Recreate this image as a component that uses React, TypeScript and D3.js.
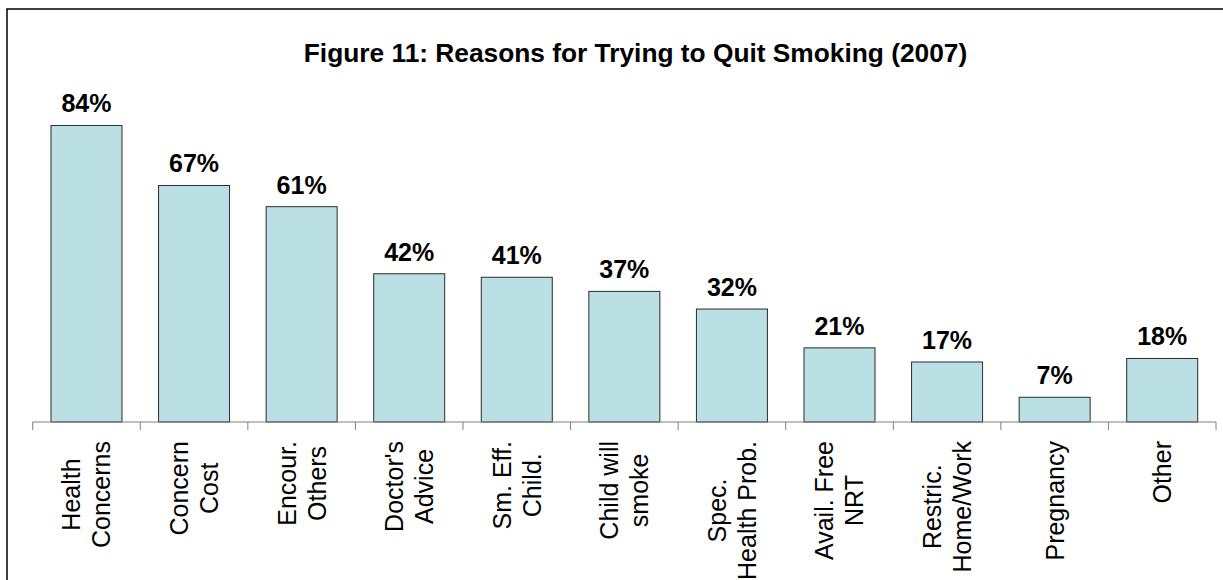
import React, { useEffect, useRef } from "react";
import * as d3 from "d3";

const categories: string[][] = [
  ["Health", "Concerns"],
  ["Concern", "Cost"],
  ["Encour.", "Others"],
  ["Doctor's", "Advice"],
  ["Sm. Eff.", "Child."],
  ["Child will", "smoke"],
  ["Spec.", "Health Prob."],
  ["Avail. Free", "NRT"],
  ["Restric.", "Home/Work"],
  ["Pregnancy"],
  ["Other"],
];
const values: number[] = [84, 67, 61, 42, 41, 37, 32, 21, 17, 7, 18];
const title = "Figure 11: Reasons for Trying to Quit Smoking (2007)";

const W = 1223;
const H = 580;
const axisY = 422;
const FONT = "'Liberation Sans', Arial, Helvetica, sans-serif";

export default function App() {
  const ref = useRef<SVGSVGElement>(null);

  useEffect(() => {
    const svg = d3.select(ref.current);
    svg.selectAll("*").remove();

    const keys = categories.map((c) => c.join(" "));
    const x = d3.scaleBand<string>().domain(keys).range([32.7, 1216]).paddingInner(0.34).paddingOuter(0.17);
    const y = d3.scaleLinear().domain([0, 90]).range([axisY, axisY - 90 * 3.53]);

    // frame
    svg.append("rect")
      .attr("x", 7).attr("y", 9).attr("width", 1300).attr("height", 700)
      .attr("fill", "white").attr("stroke", "#000").attr("stroke-width", 1.5);

    // title
    svg.append("text")
      .attr("x", 635.5).attr("y", 62)
      .attr("text-anchor", "middle")
      .attr("font-family", FONT).attr("font-weight", "bold").attr("font-size", 26.3)
      .text(title);

    // bars
    svg.append("g").selectAll("rect").data(values).join("rect")
      .attr("x", (_, i) => x(keys[i])!)
      .attr("y", (d) => y(d))
      .attr("width", x.bandwidth())
      .attr("height", (d) => axisY - y(d))
      .attr("fill", "#BBE0E3")
      .attr("stroke", "#2b2b2b").attr("stroke-width", 1);

    // value labels
    svg.append("g").selectAll("text").data(values).join("text")
      .attr("x", (_, i) => x(keys[i])! + x.bandwidth() / 2)
      .attr("y", (d) => y(d) - 13)
      .attr("text-anchor", "middle")
      .attr("font-family", FONT).attr("font-weight", "bold").attr("font-size", 25)
      .text((d) => `${d}%`);

    // axis
    const step = x.step();
    const start = x.range()[0];
    const tickXs = d3.range(keys.length + 1).map((i) => start + i * step);
    svg.append("line")
      .attr("x1", start).attr("x2", tickXs[tickXs.length - 1])
      .attr("y1", axisY).attr("y2", axisY)
      .attr("stroke", "#808080").attr("stroke-width", 1);
    svg.append("g").selectAll("line").data(tickXs).join("line")
      .attr("x1", (d) => d).attr("x2", (d) => d)
      .attr("y1", axisY).attr("y2", axisY + 8)
      .attr("stroke", "#808080").attr("stroke-width", 1);

    // category labels (rotated)
    const labelTop = 441;
    const lineH = 30;
    categories.forEach((lines, i) => {
      const cx = x(keys[i])! + x.bandwidth() / 2;
      const g = svg.append("g");
      const texts = lines.map((ln, j) =>
        g.append("text")
          .attr("text-anchor", "middle")
          .attr("font-family", FONT).attr("font-size", 25)
          .attr("x", 0)
          .attr("y", 9 + (j - (lines.length - 1) / 2) * lineH)
          .text(ln)
      );
      const maxLen = d3.max(texts, (t) => (t.node() as SVGTextElement).getComputedTextLength()) || 0;
      g.attr("transform", `translate(${cx},${labelTop + maxLen / 2}) rotate(-90)`);
    });
  }, []);

  return (
    <svg
      ref={ref}
      width={W}
      height={H}
      style={{ position: "fixed", left: 0, top: 0, background: "white" }}
    />
  );
}
